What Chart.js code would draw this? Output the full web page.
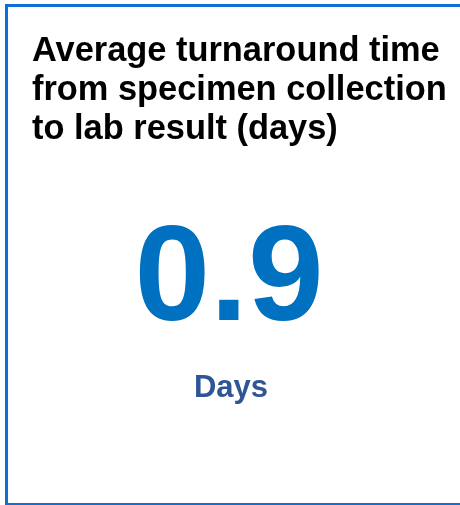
<!DOCTYPE html>
<html>
<head>
  <meta charset="utf-8" />
  <script src="https://cdn.jsdelivr.net/npm/chart.js@4.4.1/dist/chart.umd.min.js"></script>
  <style>
    body { margin:0; background:#fff; width:460px; height:505px; overflow:hidden; font-family:"Liberation Sans", Arial, sans-serif; }
    #card { position:absolute; left:5px; top:4px; width:480px; height:496px;
            border-left:3px solid #0f6fd6; border-top:3px solid #0f6fd6; border-bottom:2px solid #0f6fd6; }
    #holder { position:absolute; left:0; top:0; width:460px; height:505px; }
  </style>
</head>
<body>
<div id="card"></div>
<div id="holder"><canvas id="kpi"></canvas></div>

<script>
// KPI tile: one value
const titleLines = ["Average turnaround time", "from specimen collection", "to lab result (days)"];
const categories = ["Turnaround"];
const values = [0.9];
const unitLabel = "Days";

const kpiText = {
  id: 'kpiText',
  afterDraw(chart) {
    const ctx = chart.ctx;
    const v = chart.data.datasets[0].data[0];
    ctx.save();
    ctx.textAlign = 'center';
    ctx.textBaseline = 'alphabetic';
    ctx.fillStyle = '#0070c0';
    ctx.font = 'bold 136px "Liberation Sans", Arial, sans-serif';
    ctx.fillText(v.toFixed(1), 229, 320);
    ctx.fillStyle = '#2f5597';
    ctx.font = 'bold 31px "Liberation Sans", Arial, sans-serif';
    ctx.fillText(unitLabel, 231, 397);
    ctx.restore();
  }
};

new Chart(document.getElementById('kpi'), {
  type: 'bar',
  data: {
    labels: categories,
    datasets: [{ data: values, backgroundColor: 'rgba(0,0,0,0)', borderWidth: 0 }]
  },
  options: {
    responsive: true, maintainAspectRatio: false, animation: false,
    layout: { padding: { left: 32, top: 0, right: 0, bottom: 0 } },
    scales: { x: { display: false }, y: { display: false, min: 0, max: 1 } },
    plugins: {
      legend: { display: false },
      tooltip: { enabled: false },
      title: {
        display: true, text: titleLines, align: 'start', color: '#000',
        font: { family: '"Liberation Sans", Arial, sans-serif', size: 34.4, weight: 'bold', lineHeight: 1.134 },
        padding: { top: 32, bottom: 0 }
      }
    }
  },
  plugins: [kpiText]
});
</script>
</body>
</html>
